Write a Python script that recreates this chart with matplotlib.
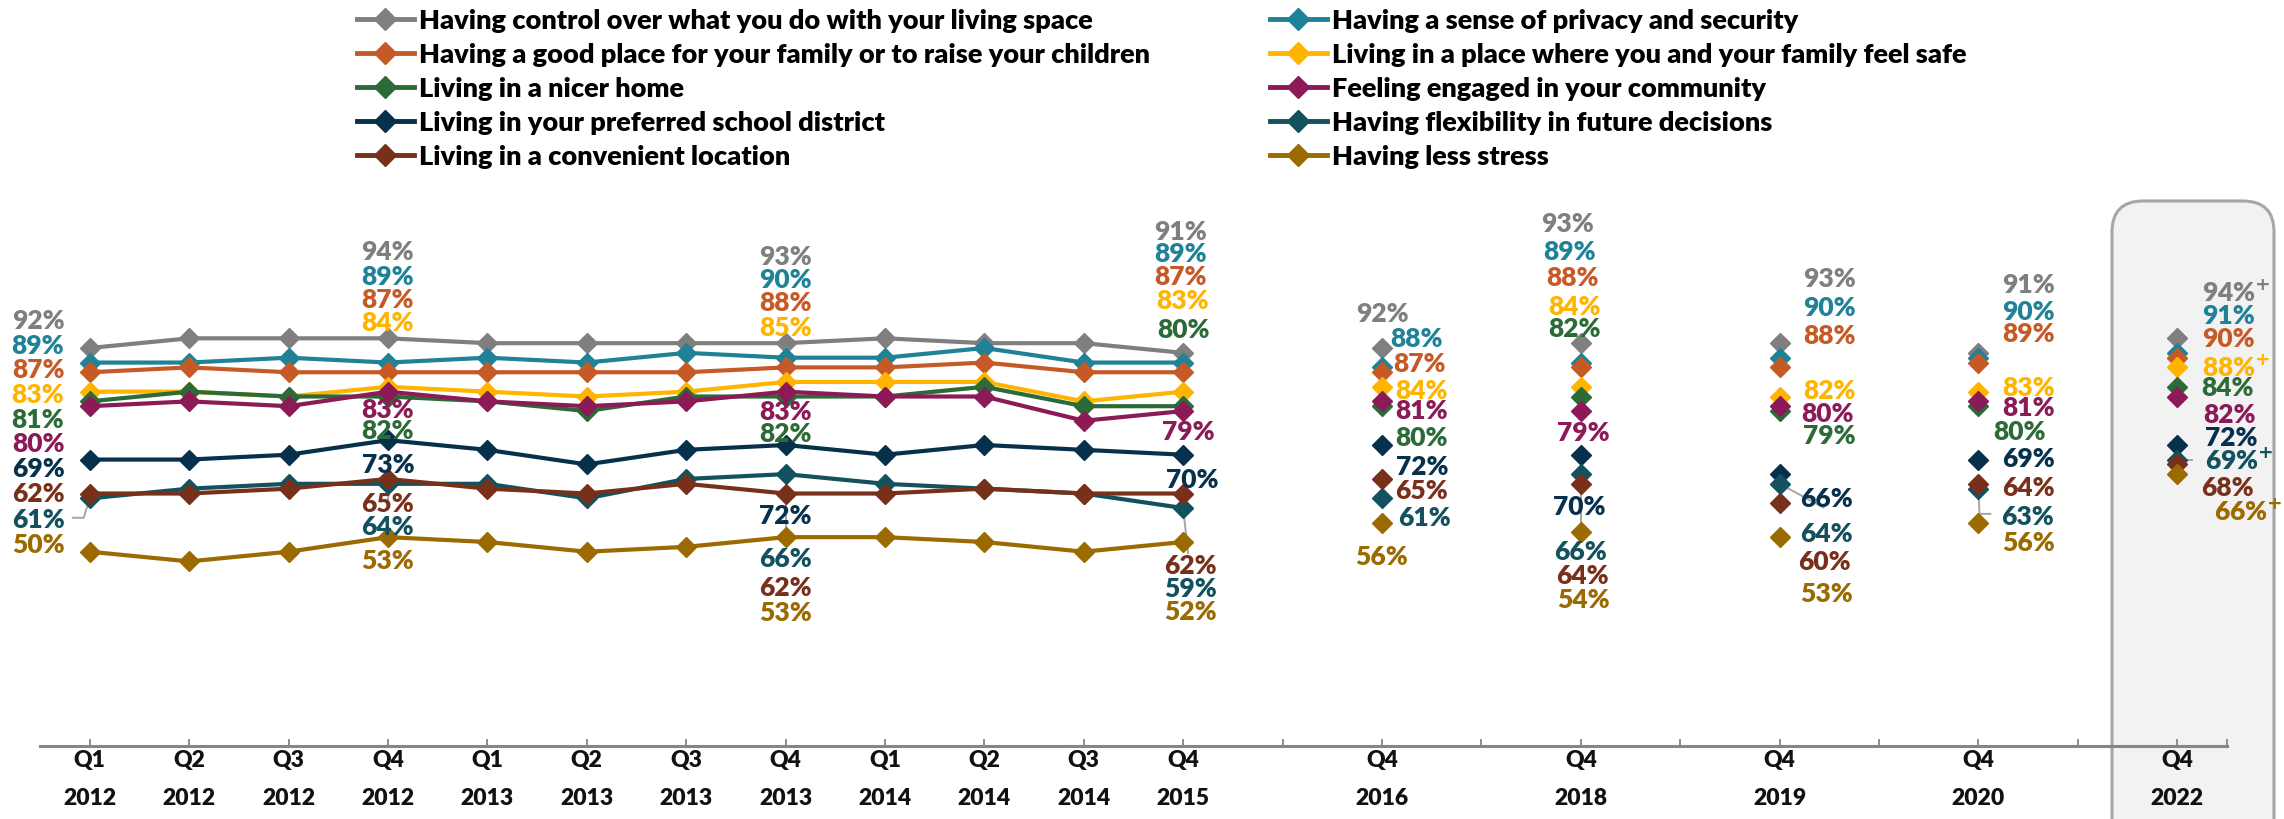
import matplotlib
matplotlib.use("Agg")
import matplotlib.pyplot as plt
from matplotlib.lines import Line2D
from matplotlib.patches import FancyBboxPatch
import numpy as np

plt.rcParams["font.family"] = ["Lato", "DejaVu Sans"]
plt.rcParams["font.weight"] = "bold"
plt.rcParams["mathtext.default"] = "bf"

# --- data -------------------------------------------------------------------
quarter_labels = ["Q1\n2012", "Q2\n2012", "Q3\n2012", "Q4\n2012",
                  "Q1\n2013", "Q2\n2013", "Q3\n2013", "Q4\n2013",
                  "Q1\n2014", "Q2\n2014", "Q3\n2014", "Q4\n2015"]
annual_labels = ["Q4\n2016", "Q4\n2018", "Q4\n2019", "Q4\n2020", "Q4\n2022"]

series_names = [
    "Having control over what you do with your living space",
    "Having a sense of privacy and security",
    "Having a good place for your family or to raise your children",
    "Living in a place where you and your family feel safe",
    "Living in a nicer home",
    "Feeling engaged in your community",
    "Living in your preferred school district",
    "Having flexibility in future decisions",
    "Living in a convenient location",
    "Having less stress",
]
colors = ["#7F7F7F", "#1F8296", "#C65A27", "#FFB400", "#2C6B38",
          "#8B1A57", "#07304D", "#14515E", "#78301A", "#9B6A00"]

# quarterly tracking (Q1 2012 .. Q4 2015) followed by annual Q4 readings
control     = [92, 94, 94, 94, 93, 93, 93, 93, 94, 93, 93, 91, 92, 93, 93, 91, 94]
privacy     = [89, 89, 90, 89, 90, 89, 91, 90, 90, 92, 89, 89, 88, 89, 90, 90, 91]
family      = [87, 88, 87, 87, 87, 87, 87, 88, 88, 89, 87, 87, 87, 88, 88, 89, 90]
safe        = [83, 83, 82, 84, 83, 82, 83, 85, 85, 85, 81, 83, 84, 84, 82, 83, 88]
nicer       = [81, 83, 82, 82, 81, 79, 82, 82, 82, 84, 80, 80, 80, 82, 79, 80, 84]
engaged     = [80, 81, 80, 83, 81, 80, 81, 83, 82, 82, 77, 79, 81, 79, 80, 81, 82]
school      = [69, 69, 70, 73, 71, 68, 71, 72, 70, 72, 71, 70, 72, 70, 66, 69, 72]
flexibility = [61, 63, 64, 64, 64, 61, 65, 66, 64, 63, 62, 59, 61, 66, 64, 63, 69]
convenient  = [62, 62, 63, 65, 63, 62, 64, 62, 62, 63, 62, 62, 65, 64, 60, 64, 68]
stress      = [50, 48, 50, 53, 52, 50, 51, 53, 53, 52, 50, 52, 56, 54, 53, 56, 66]
all_series = [control, privacy, family, safe, nicer, engaged, school,
              flexibility, convenient, stress]

# significant change vs. prior wave (series index, point index)
plus_marks = {(0, 16), (3, 16), (7, 16), (9, 16)}

# --- layout -----------------------------------------------------------------
n_q = len(quarter_labels)
x_q = np.arange(n_q)
x_a = n_q + 1 + 2 * np.arange(len(annual_labels))
x_all = np.concatenate([x_q, x_a])

# label anchor (x, y) per labelled point, series in legend order
label_pos = {
    0: [(-0.52, 97.8), (-0.52, 92.7), (-0.52, 87.7), (-0.52, 82.5), (-0.52, 77.4),
        (-0.52, 72.4), (-0.52, 67.2), (-0.52, 56.7), (-0.52, 62.2), (-0.52, 51.6)],
    3: [(3, 111.9), (3, 106.9), (3, 102.1), (3, 97.3), (3, 75.1),
        (3, 79.4), (3, 68.0), (3, 55.2), (3, 60.0), (3, 48.3)],
    7: [(7, 111.0), (7, 106.2), (7, 101.4), (7, 96.3), (7, 74.4),
        (7, 79.1), (7, 57.6), (7, 48.8), (7, 42.8), (7, 37.6)],
    11: [(10.97, 116.2), (10.97, 111.5), (10.97, 106.9), (10.99, 101.8), (11.0, 95.9),
         (11.05, 74.8), (11.09, 65.0), (11.07, 42.5), (11.07, 47.3), (11.07, 37.7)],
    12: [(13.0, 99.2), (13.35, 94.0), (13.38, 88.9), (13.4, 83.4), (13.4, 73.7),
         (13.4, 79.3), (13.4, 67.7), (13.43, 57.1), (13.4, 62.7), (13.0, 49.2)],
    13: [(14.87, 117.7), (14.89, 112.1), (14.92, 106.6), (14.94, 100.7), (14.94, 96.1),
         (15.02, 74.6), (14.98, 59.5), (15.0, 50.2), (15.02, 45.1), (15.03, 40.2)],
    14: [(17.5, 106.4), (17.5, 100.5), (17.5, 94.7), (17.5, 83.4), (17.5, 74.1),
         (17.48, 78.6), (17.47, 61.0), (17.47, 53.8), (17.45, 48.0), (17.47, 41.4)],
    15: [(19.5, 105.2), (19.5, 99.6), (19.5, 95.0), (19.5, 84.0), (19.41, 74.9),
         (19.5, 79.8), (19.5, 69.3), (19.49, 57.4), (19.5, 63.4), (19.5, 52.1)],
    16: [(21.25, 103.5), (21.25, 98.9), (21.25, 94.1), (21.25, 88.2), (21.24, 83.9),
         (21.26, 78.3), (21.28, 73.6), (21.28, 68.9), (21.24, 63.4), (21.37, 58.5)],
}
leaders = [
    [(0, -0.06, -0.18), (61, 57.0, 57.0)],
    [(3, 3), (64.0, 59.8)],
    [(7, 7), (65.6, 54.1)],
    [(11, 11.05), (59, 49.5)],
    [(15, 15), (66, 55.1)],
    [(17, 17.45), (64, 59.0)],
    [(19, 19.01, 19.13), (63, 57.8, 57.8)],
    [(21, 21.16), (69, 69)],
]

W, H, DPI = 2284, 820, 100
fig = plt.figure(figsize=(W / DPI, H / DPI), dpi=DPI)
ax = fig.add_axes([40 / W, 73 / H, (2227 - 40) / W, 747 / H])
ax.patch.set_visible(False)

# highlight box for the latest wave
box = FancyBboxPatch((21.12, -0.5), 1.62, 6.68,
                     boxstyle="round,pad=0,rounding_size=0.31",
                     transform=fig.dpi_scale_trans, facecolor="#F2F2F2",
                     edgecolor="#A6A6A6", linewidth=2.2, zorder=-5)
fig.add_artist(box)

for xs, ys in leaders:
    ax.plot(xs, ys, color="#A6A6A6", lw=1.4, zorder=1.5, solid_capstyle="butt")

for i, (vals, c) in enumerate(zip(all_series, colors)):
    vals = np.asarray(vals)
    ax.plot(x_q, vals[:n_q], color=c, lw=3, marker="D", ms=10,
            mec=c, zorder=2 + i * 0.01)
    ax.plot(x_a, vals[n_q:], color=c, lw=0, marker="D", ms=10,
            mec=c, zorder=2 + i * 0.01)

for k, positions in label_pos.items():
    for i, (lx, ly) in enumerate(positions):
        txt = f"{all_series[i][k]}%"
        if (i, k) in plus_marks:
            txt += r"$^{+}$"
        ha = "left" if k == 16 else "center"
        ax.text(lx, ly, txt, color=colors[i], fontsize=19, fontweight="heavy",
                ha=ha, va="center", zorder=5)

ax.set_xlim(-0.5, 21.5)
ax.set_ylim(9.94, 163.96)
ax.set_xticks(np.arange(22))
tick_text = [""] * 22
for x, lab in zip(x_all, quarter_labels + annual_labels):
    tick_text[int(x)] = lab
ax.set_xticklabels(tick_text, fontsize=16.5, fontweight="heavy", color="#111111",
                   linespacing=2.0)
ax.set_xticks([21.5], minor=True)
ax.tick_params(axis="x", which="both", direction="in", length=5, width=1.3,
               color="#868686", pad=2.5)
ax.set_yticks([])
for side in ("left", "right", "top"):
    ax.spines[side].set_visible(False)
ax.spines["bottom"].set_color("#868686")
ax.spines["bottom"].set_linewidth(2.2)

handles = [Line2D([], [], color=c, lw=3.5, marker="D", ms=11, mec=c) for c in colors]
common = dict(frameon=False, prop={"size": 19.5, "weight": "heavy"},
              handlelength=2.1, handletextpad=0.2,
              labelspacing=0.37, borderpad=0, borderaxespad=0, loc="upper left",
              bbox_transform=fig.transFigure)
leg1 = fig.legend(handles[0::2], series_names[0::2],
                  bbox_to_anchor=(357 / W, 1 - 9 / H), **common)
leg2 = fig.legend(handles[1::2], series_names[1::2],
                  bbox_to_anchor=(1270 / W, 1 - 9 / H), **common)

fig.savefig("out.png", dpi=DPI)
